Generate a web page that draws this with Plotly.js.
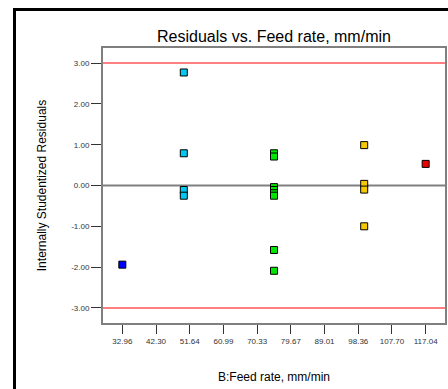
<!DOCTYPE html>
<html>
<head>
<meta charset="utf-8">
<script src="https://cdn.plot.ly/plotly-3.0.1.min.js"></script>
<style>
html,body{margin:0;padding:0;background:#fff;overflow:hidden;}
#wrap{position:relative;width:448px;height:389px;}
#chart{position:absolute;left:0;top:0;width:448px;height:389px;}
#frame{position:absolute;left:13px;top:8px;width:440px;height:390px;border-left:3px solid #000;border-top:3px solid #000;pointer-events:none;}
</style>
</head>
<body>
<div id="wrap"><div id="chart"></div><div id="frame"></div></div>
<script>
// Feed rate groups (mm/min) and internally studentized residuals
const groupX = [32.96, 50, 75, 100, 117.04];
const groupColors = ['#0000ff', '#00c8f0', '#00e600', '#f5c800', '#f00000'];
const residualsBlue = [-1.94];
const residualsCyan = [2.77, 0.79, -0.11, -0.25];
const residualsGreen = [0.79, 0.71, -0.04, -0.11, -0.19, -0.25, -1.58, -2.09];
const residualsYellow = [0.99, 0.04, -0.10, -1.00];
const residualsRed = [0.53];
const xTickVals = [32.96, 42.30, 51.64, 60.99, 70.33, 79.67, 89.01, 98.36, 107.70, 117.04];
const xTickText = ['32.96', '42.30', '51.64', '60.99', '70.33', '79.67', '89.01', '98.36', '107.70', '117.04'];
const yTickVals = [-3, -2, -1, 0, 1, 2, 3];
const yTickText = ['-3.00', '-2.00', '-1.00', '0.00', '1.00', '2.00', '3.00'];
const limitHigh = 3;
const limitLow = -3;

const groups = [residualsBlue, residualsCyan, residualsGreen, residualsYellow, residualsRed];
const traces = groups.map((vals, i) => ({
  type: 'scatter',
  mode: 'markers',
  x: vals.map(() => groupX[i]),
  y: vals,
  marker: {symbol: 'square', size: 7, color: groupColors[i], line: {color: '#000', width: 1}},
  showlegend: false,
  hoverinfo: 'x+y'
}));

const layout = {
  width: 448, height: 389,
  margin: {l: 103, r: 3, t: 48, b: 66},
  paper_bgcolor: 'rgba(0,0,0,0)', plot_bgcolor: '#fff',
  font: {family: 'Liberation Sans, Arial, sans-serif', color: '#000'},
  title: {text: 'Residuals vs. Feed rate, mm/min', font: {size: 16, color: '#000'},
          x: 0.5, xref: 'paper', y: 1, yref: 'paper', yanchor: 'bottom', pad: {b: 6}},
  xaxis: {
    range: [27.6, 122.4], tickmode: 'array', tickvals: xTickVals, ticktext: xTickText,
    showgrid: false, zeroline: false, showline: true, mirror: true, linecolor: '#7f7f7f', linewidth: 2,
    ticks: 'outside', ticklen: 9, tickcolor: '#333', tickwidth: 1,
    tickfont: {size: 8, color: '#333'},
    title: {text: 'B:Feed rate, mm/min', font: {size: 12, color: '#000'}, standoff: 28}
  },
  yaxis: {
    range: [-3.37, 3.37], tickmode: 'array', tickvals: yTickVals, ticktext: yTickText,
    showgrid: false, zeroline: false, showline: true, mirror: true, linecolor: '#7f7f7f', linewidth: 2,
    ticks: 'outside', ticklen: 10, tickcolor: '#333', tickwidth: 1,
    tickfont: {size: 8, color: '#333'},
    title: {text: 'Internally Studentized Residuals', font: {size: 12, color: '#000'}, standoff: 22}
  },
  shapes: [
    {type: 'line', xref: 'paper', yref: 'y', x0: 0, x1: 1, y0: limitHigh, y1: limitHigh, line: {color: '#ff8080', width: 2}, layer: 'below'},
    {type: 'line', xref: 'paper', yref: 'y', x0: 0, x1: 1, y0: limitLow, y1: limitLow, line: {color: '#ff8080', width: 2}, layer: 'below'},
    {type: 'line', xref: 'paper', yref: 'y', x0: 0, x1: 1, y0: 0, y1: 0, line: {color: '#808080', width: 2}, layer: 'below'}
  ]
};

Plotly.newPlot('chart', traces, layout, {displayModeBar: false, staticPlot: true});
</script>
</body>
</html>
